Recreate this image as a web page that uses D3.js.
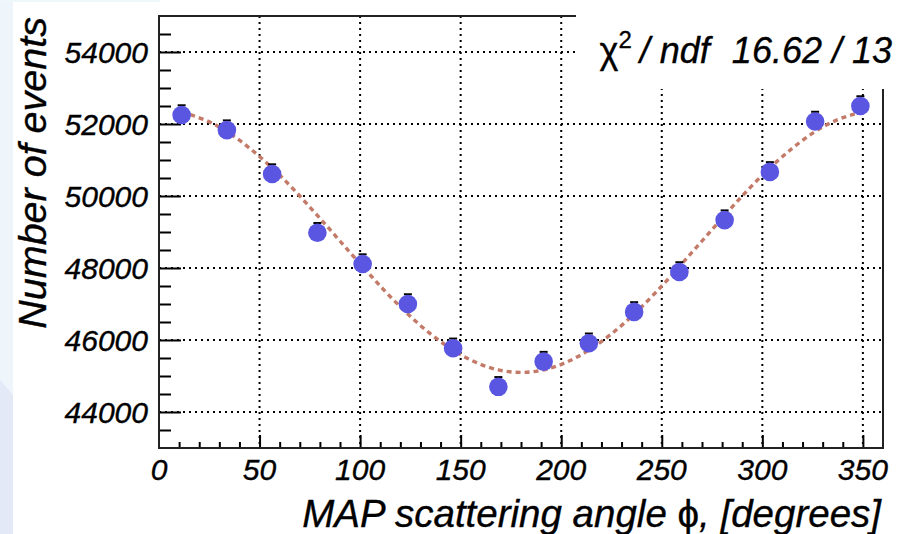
<!DOCTYPE html>
<html>
<head>
<meta charset="utf-8">
<script src="https://cdn.jsdelivr.net/npm/d3@7"></script>
<style>
  html, body { margin: 0; padding: 0; background: #ffffff; }
  svg { display: block; }
  text { font-family: "Liberation Sans", Arial, Helvetica, sans-serif; font-style: italic; fill: #000; stroke: #000; stroke-width: 0.35px; }
  .up { font-style: normal; }
</style>
</head>
<body>
<svg id="chart" width="899" height="534"></svg>
<script>
// ---- data ----
const phiBins   = [11.25, 33.75, 56.25, 78.75, 101.25, 123.75, 146.25, 168.75,
                   191.25, 213.75, 236.25, 258.75, 281.25, 303.75, 326.25, 348.75];
const events    = [52250, 51830, 50610, 48980, 48110, 47000, 45770, 44700,
                   45400, 45910, 46780, 47890, 49330, 50670, 52070, 52500];
const errors    = [270, 270, 270, 270, 270, 270, 270, 270,
                   270, 270, 270, 270, 270, 270, 270, 270];
const fitPhi    = [11.25, 22.5, 33.75, 45, 56.25, 67.5, 78.75, 90, 101.25, 112.5, 123.75,
                   135, 146.25, 157.5, 168.75, 180, 191.25, 202.5, 213.75, 225, 236.25,
                   247.5, 258.75, 270, 281.25, 292.5, 303.75, 315, 326.25, 337.5, 348.75];
const fitValues = [52330, 52120, 51790, 51330, 50780, 50150, 49460, 48750, 48040, 47350, 46720,
                   46170, 45720, 45380, 45170, 45100, 45170, 45380, 45720, 46170, 46720,
                   47350, 48040, 48750, 49460, 50150, 50780, 51330, 51790, 52120, 52330];
const xTicks    = [0, 50, 100, 150, 200, 250, 300, 350];
const yTicks    = [44000, 46000, 48000, 50000, 52000, 54000];
const xTitleA   = "MAP scattering angle ";
const xTitleSym = "\u03D5";
const xTitleB   = ", [degrees]";
const yTitle    = "Number of events";
const statLabel = "ndf";
const statValue = "16.62 / 13";

// ---- layout ----
const svg = d3.select("#chart");
const L = 159, R = 883, T = 16, B = 448;
const x = d3.scaleLinear().domain([0, 360]).range([L, R]);
const y = d3.scaleLinear().domain([43000, 55000]).range([B, T]);

// slide background remnants
svg.append("rect").attr("x", 0).attr("y", 0).attr("width", 13).attr("height", 534).attr("fill", "#eef6fc");
svg.append("polygon").attr("points", "0,380 13,395 13,534 0,534").attr("fill", "#e4e9f7");
svg.append("rect").attr("x", 0).attr("y", 0).attr("width", 160).attr("height", 2).attr("fill", "#eef8fb");

// grid
const grid = svg.append("g").attr("stroke", "#000").attr("stroke-width", 2).attr("stroke-dasharray", "2 4");
grid.selectAll("line.gx").data(xTicks.filter(d => d > 0)).join("line")
  .attr("x1", d => x(d)).attr("x2", d => x(d)).attr("y1", T).attr("y2", B);
grid.selectAll("line.gy").data(yTicks).join("line")
  .attr("x1", L).attr("x2", R).attr("y1", d => y(d)).attr("y2", d => y(d));

// axes: ticks drawn inside the frame
const yAxis = d3.axisRight(y).tickValues(d3.range(43500, 55000, 500)).tickSize(0).tickFormat("");
const gy = svg.append("g").attr("transform", `translate(${L},0)`).call(yAxis);
gy.select(".domain").remove();
gy.selectAll(".tick line").attr("stroke", "#000").attr("stroke-width", 2)
  .attr("x2", d => (d % 2000 === 0 ? 22 : 12));

const xAxis = d3.axisTop(x).tickValues(d3.range(10, 360, 10)).tickSize(0).tickFormat("");
const gx = svg.append("g").attr("transform", `translate(0,${B})`).call(xAxis);
gx.select(".domain").remove();
gx.selectAll(".tick line").attr("stroke", "#000").attr("stroke-width", 2)
  .attr("y2", d => (d % 50 === 0 ? -13 : -6));

// tick labels
svg.append("g").selectAll("text").data(yTicks).join("text")
  .attr("x", 148).attr("y", d => y(d)).attr("dy", "0.36em")
  .attr("text-anchor", "end").attr("font-size", 30).text(d => d);
svg.append("g").selectAll("text").data(xTicks).join("text")
  .attr("x", d => x(d)).attr("y", 480)
  .attr("text-anchor", "middle").attr("font-size", 30).text(d => d);

// fit curve
const line = d3.line().x((d, i) => x(fitPhi[i])).y(d => y(d)).curve(d3.curveNatural);
svg.append("path").attr("d", line(fitValues)).attr("fill", "none")
  .attr("stroke", "#c47a68").attr("stroke-width", 3.4).attr("stroke-dasharray", "5 4");

// error bars (upper half; lower half is hidden under the marker)
const eb = svg.append("g").attr("stroke", "#000").attr("stroke-width", 2);
eb.selectAll("line.v").data(events).join("line")
  .attr("x1", (d, i) => x(phiBins[i])).attr("x2", (d, i) => x(phiBins[i]))
  .attr("y1", d => y(d)).attr("y2", (d, i) => y(d + errors[i]));
eb.selectAll("line.c").data(events).join("line")
  .attr("x1", (d, i) => x(phiBins[i]) - 4).attr("x2", (d, i) => x(phiBins[i]) + 4)
  .attr("y1", (d, i) => y(d + errors[i])).attr("y2", (d, i) => y(d + errors[i]));

// markers
svg.append("g").selectAll("circle").data(events).join("circle")
  .attr("cx", (d, i) => x(phiBins[i])).attr("cy", d => y(d)).attr("r", 9.3)
  .attr("fill", "#5a56e2");

// frame
svg.append("rect").attr("x", L).attr("y", T).attr("width", R - L).attr("height", B - T)
  .attr("fill", "none").attr("stroke", "#222").attr("stroke-width", 2);

// stats box (white, borderless) covering top-right corner
svg.append("rect").attr("x", 576).attr("y", 0).attr("width", 323).attr("height", 89).attr("fill", "#fff");
const st = svg.append("text").attr("x", 892).attr("y", 63).attr("text-anchor", "end").attr("font-size", 36);
st.append("tspan").attr("class", "up").text("\u03C7");
st.append("tspan").attr("class", "up").attr("font-size", 24).attr("dy", -15).text("2");
st.append("tspan").attr("dy", 15).attr("dx", 8).text("/ " + statLabel);
st.append("tspan").attr("dx", 22).text(statValue);

// axis titles
const xt = svg.append("text").attr("x", 881).attr("y", 527).attr("text-anchor", "end").attr("font-size", 38.5);
xt.append("tspan").text(xTitleA);
xt.append("tspan").attr("class", "up").text(xTitleSym);
xt.append("tspan").text(xTitleB);
svg.append("text").attr("transform", "translate(46,17) rotate(-90)").attr("text-anchor", "end")
  .attr("font-size", 39.5).text(yTitle);
</script>
</body>
</html>
